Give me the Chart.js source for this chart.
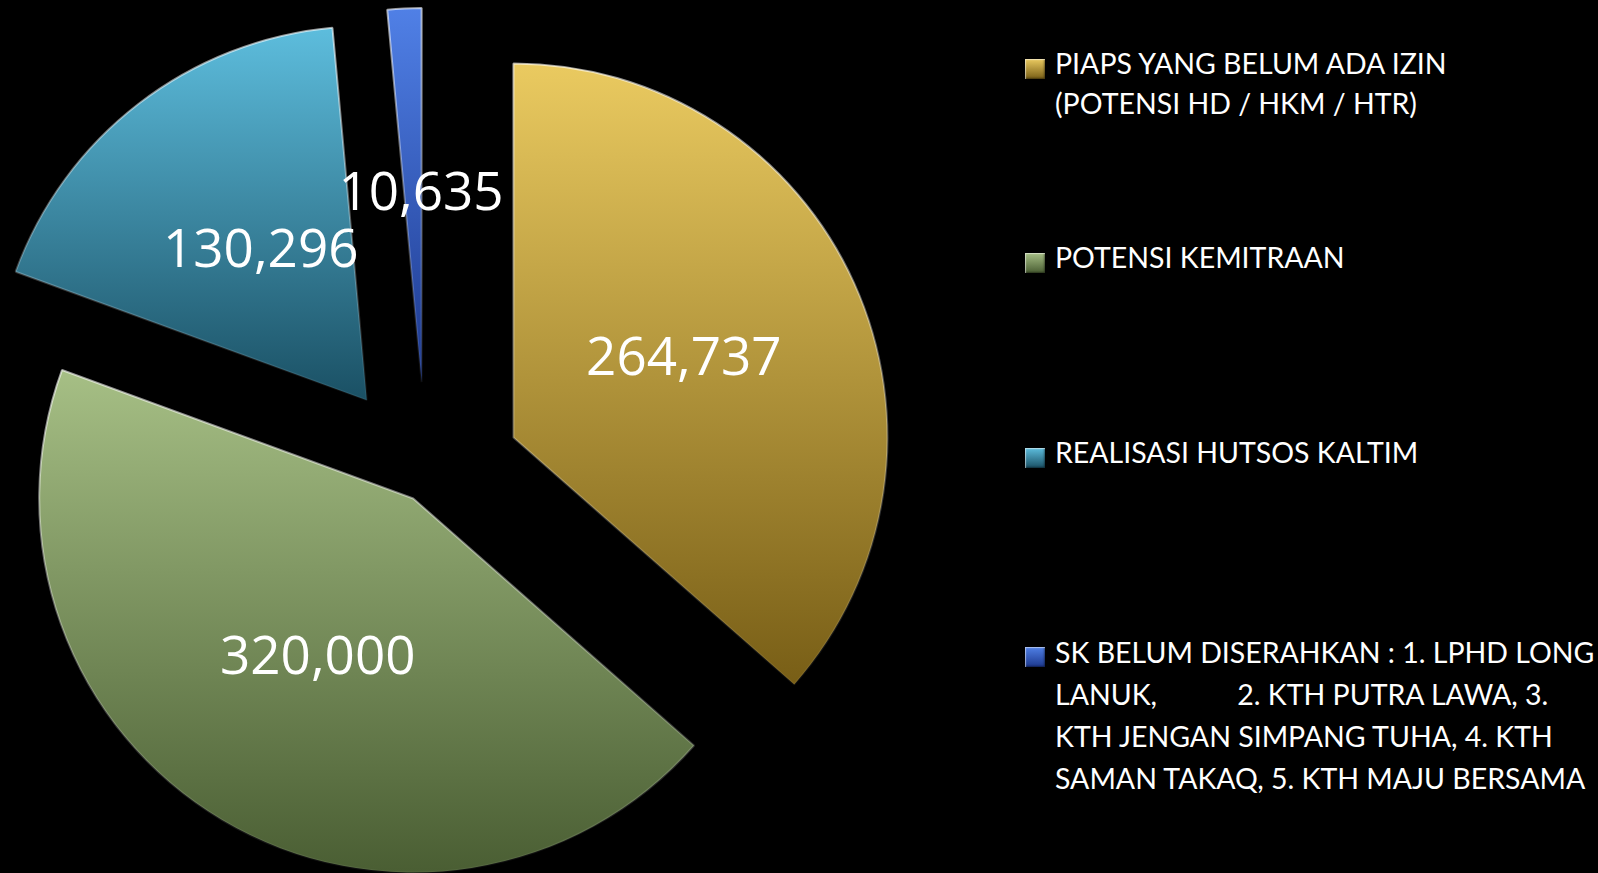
<!DOCTYPE html>
<html>
<head>
<meta charset="utf-8">
<script src="https://cdn.jsdelivr.net/npm/chart.js@4.4.1/dist/chart.umd.min.js"></script>
<style>
  html, body { margin: 0; padding: 0; background: #000; overflow: hidden; width: 1598px; height: 873px; }
  #wrap { position: absolute; left: 0; top: 0; width: 1000px; height: 873px; }
  #legend { position: absolute; left: 0; top: 0; font-family: Lato, "Open Sans", sans-serif; font-size: 28.5px; color: #fff; }
  .item { position: absolute; left: 1025px; }
  .box { position: absolute; left: 0; top: 16px; width: 20px; height: 20px;
         box-shadow: inset 1px 1px 1px rgba(255,255,255,0.55), inset -1px -1px 2px rgba(0,0,0,0.45); }
  .txt { position: absolute; left: 30px; top: 0; white-space: pre; }
</style>
</head>
<body>
<div id="wrap"><canvas id="pie"></canvas></div>
<div id="legend"></div>
<script>
const labels = [
    ['PIAPS YANG BELUM ADA IZIN', '(POTENSI HD / HKM / HTR)'],
    ['POTENSI KEMITRAAN'],
    ['REALISASI HUTSOS KALTIM'],
    ['SK BELUM DISERAHKAN : 1. LPHD LONG',
     'LANUK,           2. KTH PUTRA LAWA, 3.',
     'KTH JENGAN SIMPANG TUHA, 4. KTH',
     'SAMAN TAKAQ, 5. KTH MAJU BERSAMA']
];
const values = [264737, 320000, 130296, 10635];
const topColors = ['#EACA60', '#A6BF85', '#5DBDDD', '#5080E6'];
const bottomColors = ['#785E16', '#4A5E33', '#1A5064', '#1C388E'];
const explode = [96, 25, 97, 95];

// legend layout (top of each entry, line height)
const legendTop = [43, 237, 432, 631];
const legendLine = [40, 40, 40, 42];

// pull slices out along their bisector and shade each one top-to-bottom
const explodePlugin = {
    id: 'explode',
    afterDatasetUpdate(chart, args) {
        const ctx = chart.ctx;
        args.meta.data.forEach((arc, i) => {
            const mid = (arc.startAngle + arc.endAngle) / 2;
            arc.x += Math.cos(mid) * explode[i];
            arc.y += Math.sin(mid) * explode[i];
            let top = arc.y, bottom = arc.y;
            for (let k = 0; k <= 60; k++) {
                const a = arc.startAngle + (arc.endAngle - arc.startAngle) * k / 60;
                const y = arc.y + Math.sin(a) * arc.outerRadius;
                top = Math.min(top, y);
                bottom = Math.max(bottom, y);
            }
            const fill = ctx.createLinearGradient(0, top, 0, bottom);
            fill.addColorStop(0, topColors[i]);
            fill.addColorStop(1, bottomColors[i]);
            const edge = ctx.createLinearGradient(0, top, 0, bottom);
            edge.addColorStop(0, 'rgba(255,255,255,0.6)');
            edge.addColorStop(1, 'rgba(255,255,255,0.05)');
            arc.options = Object.assign({}, arc.options, { backgroundColor: fill, borderColor: edge });
        });
    }
};

const valueLabels = {
    id: 'valueLabels',
    afterDatasetsDraw(chart) {
        const ctx = chart.ctx;
        ctx.save();
        ctx.font = '53px "Open Sans"';
        ctx.fillStyle = '#fff';
        ctx.textAlign = 'center';
        ctx.textBaseline = 'middle';
        chart.getDatasetMeta(0).data.forEach((arc, i) => {
            const p = arc.tooltipPosition();
            ctx.fillText(values[i].toLocaleString('en-US'), p.x + (i >= 2 ? 8 : 0), p.y);
        });
        ctx.restore();
    }
};

const chart = new Chart(document.getElementById('pie'), {
    type: 'pie',
    data: {
        labels: labels,
        datasets: [{
            data: values,
            backgroundColor: topColors,
            borderColor: '#ffffff',
            borderWidth: 2,
            radius: 374
        }]
    },
    options: {
        responsive: true,
        maintainAspectRatio: false,
        animation: false,
        events: [],
        layout: { padding: { top: 81, right: 148 } },
        plugins: {
            legend: { display: false },
            tooltip: { enabled: false }
        }
    },
    plugins: [explodePlugin, valueLabels]
});

// html legend, the entries wrap over several lines
const legend = document.getElementById('legend');
chart.data.labels.forEach((lines, i) => {
    const item = document.createElement('div');
    item.className = 'item';
    item.style.top = legendTop[i] + 'px';
    item.style.lineHeight = legendLine[i] + 'px';
    item.innerHTML = `<div class="box" style="background:linear-gradient(${topColors[i]}, ${bottomColors[i]})"></div>`;
    const txt = document.createElement('div');
    txt.className = 'txt';
    txt.textContent = lines.join('\n');
    item.appendChild(txt);
    legend.appendChild(item);
});
</script>
</body>
</html>
